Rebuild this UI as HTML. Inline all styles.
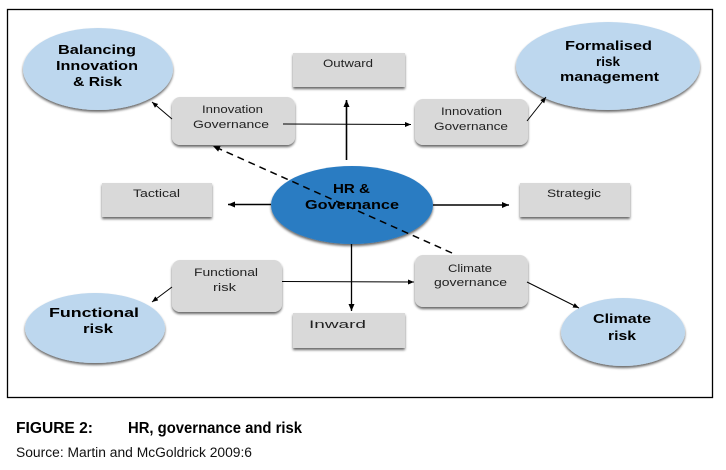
<!DOCTYPE html>
<html><head><meta charset="utf-8">
<style>
html,body{margin:0;padding:0;background:#fff;}
svg{display:block;}
text{font-family:"Liberation Sans",Arial,sans-serif;}
</style></head>
<body>
<svg width="726" height="470" viewBox="0 0 726 470" xmlns="http://www.w3.org/2000/svg">
<defs>
  <filter id="sh" x="-20%" y="-20%" width="140%" height="160%">
    <feGaussianBlur in="SourceAlpha" stdDeviation="1.2"/>
    <feOffset dx="0" dy="2" result="b"/>
    <feComponentTransfer><feFuncA type="linear" slope="0.6"/></feComponentTransfer>
    <feMerge><feMergeNode/><feMergeNode in="SourceGraphic"/></feMerge>
  </filter>
  <marker id="ah" markerWidth="8" markerHeight="8" refX="7" refY="4" orient="auto" markerUnits="userSpaceOnUse">
    <path d="M0,1 L7,4 L0,7 z" fill="#000"/>
  </marker>
  <marker id="ahs" markerWidth="7" markerHeight="7" refX="6" refY="3.5" orient="auto" markerUnits="userSpaceOnUse">
    <path d="M0,1 L6,3.5 L0,6 z" fill="#000"/>
  </marker>
</defs>

<rect x="7.5" y="9.5" width="705" height="388" fill="#fff" stroke="#000" stroke-width="1.3"/>

<!-- light blue ellipses -->
<g fill="#bdd7ee" filter="url(#sh)">
  <ellipse cx="98" cy="69" rx="75" ry="41"/>
  <ellipse cx="608" cy="66" rx="92" ry="44"/>
  <ellipse cx="95" cy="328" rx="70" ry="35"/>
  <ellipse cx="623" cy="332" rx="62" ry="34"/>
</g>

<!-- gray boxes -->
<g fill="#d9d9d9" filter="url(#sh)">
  <rect x="293" y="53" width="112" height="34"/>
  <rect x="102" y="183" width="110" height="34"/>
  <rect x="520" y="183" width="110" height="34"/>
  <rect x="293" y="313" width="112" height="35"/>
  <rect x="172" y="97" width="123" height="48" rx="8"/>
  <rect x="415" y="99" width="113" height="46" rx="8"/>
  <rect x="172" y="260" width="110" height="52" rx="8"/>
  <rect x="415" y="255" width="113" height="52" rx="8"/>
</g>

<!-- central ellipse -->
<ellipse cx="352" cy="205" rx="81" ry="39" fill="#2b7cc2" filter="url(#sh)"/>

<!-- connectors -->
<g stroke="#000" fill="none">
  <line x1="346.5" y1="160" x2="346.5" y2="100" stroke-width="1.6" marker-end="url(#ah)"/>
  <line x1="351.5" y1="244" x2="351.5" y2="311" stroke-width="1.3" marker-end="url(#ah)"/>
  <line x1="271" y1="204.5" x2="228" y2="204.5" stroke-width="1.6" marker-end="url(#ah)"/>
  <line x1="433" y1="205" x2="509" y2="205" stroke-width="1.6" marker-end="url(#ah)"/>
  <line x1="283" y1="124" x2="411" y2="124.5" stroke-width="1" marker-end="url(#ahs)"/>
  <line x1="282" y1="281.5" x2="414" y2="282" stroke-width="1" marker-end="url(#ahs)"/>
  <line x1="172" y1="119" x2="152" y2="102" stroke-width="1" marker-end="url(#ahs)"/>
  <line x1="527" y1="121" x2="546" y2="97" stroke-width="1" marker-end="url(#ahs)"/>
  <line x1="172" y1="287" x2="152" y2="302" stroke-width="1" marker-end="url(#ahs)"/>
  <line x1="527" y1="282" x2="579" y2="308" stroke-width="1" marker-end="url(#ahs)"/>
  <line x1="452" y1="253" x2="213" y2="146" stroke-width="1.5" stroke-dasharray="7,5" marker-end="url(#ah)"/>
</g>

<!-- box labels -->
<g font-size="11" fill="#222" text-anchor="start">
  <text x="323" y="67" textLength="50" lengthAdjust="spacingAndGlyphs">Outward</text>
  <text x="133" y="197" textLength="47" lengthAdjust="spacingAndGlyphs">Tactical</text>
  <text x="547" y="197" textLength="54" lengthAdjust="spacingAndGlyphs">Strategic</text>
  <text x="309" y="328" textLength="57" lengthAdjust="spacingAndGlyphs">Inward</text>
  <text x="202" y="113" textLength="61" lengthAdjust="spacingAndGlyphs">Innovation</text>
  <text x="193" y="128" textLength="76" lengthAdjust="spacingAndGlyphs">Governance</text>
  <text x="441" y="115" textLength="61" lengthAdjust="spacingAndGlyphs">Innovation</text>
  <text x="434" y="130" textLength="74" lengthAdjust="spacingAndGlyphs">Governance</text>
  <text x="194" y="276" textLength="64" lengthAdjust="spacingAndGlyphs">Functional</text>
  <text x="213" y="291" textLength="23" lengthAdjust="spacingAndGlyphs">risk</text>
  <text x="448" y="272" textLength="44" lengthAdjust="spacingAndGlyphs">Climate</text>
  <text x="434" y="286" textLength="73" lengthAdjust="spacingAndGlyphs">governance</text>
</g>

<!-- ellipse labels -->
<g font-size="12.5" font-weight="bold" fill="#000">
  <text x="58" y="54" textLength="78" lengthAdjust="spacingAndGlyphs">Balancing</text>
  <text x="56" y="70" textLength="82" lengthAdjust="spacingAndGlyphs">Innovation</text>
  <text x="73" y="86" textLength="49" lengthAdjust="spacingAndGlyphs">&amp; Risk</text>
  <text x="565" y="50" textLength="87" lengthAdjust="spacingAndGlyphs">Formalised</text>
  <text x="596" y="66" textLength="24" lengthAdjust="spacingAndGlyphs">risk</text>
  <text x="560" y="81" textLength="99" lengthAdjust="spacingAndGlyphs">management</text>
  <text x="49" y="317" textLength="90" lengthAdjust="spacingAndGlyphs">Functional</text>
  <text x="83" y="333" textLength="30" lengthAdjust="spacingAndGlyphs">risk</text>
  <text x="593" y="323" textLength="58" lengthAdjust="spacingAndGlyphs">Climate</text>
  <text x="608" y="340" textLength="28" lengthAdjust="spacingAndGlyphs">risk</text>
  <text x="333" y="193" textLength="37" lengthAdjust="spacingAndGlyphs">HR &amp;</text>
  <text x="305" y="209" textLength="94" lengthAdjust="spacingAndGlyphs">Governance</text>
</g>

<!-- caption -->
<text x="16" y="433" font-size="16" font-weight="bold" fill="#000" textLength="77" lengthAdjust="spacingAndGlyphs">FIGURE 2:</text>
<text x="128" y="433" font-size="16" font-weight="bold" fill="#000" textLength="174" lengthAdjust="spacingAndGlyphs">HR, governance and risk</text>
<text x="16" y="457" font-size="13.5" fill="#111" textLength="236" lengthAdjust="spacingAndGlyphs">Source: Martin and McGoldrick 2009:6</text>
</svg>
</body></html>
